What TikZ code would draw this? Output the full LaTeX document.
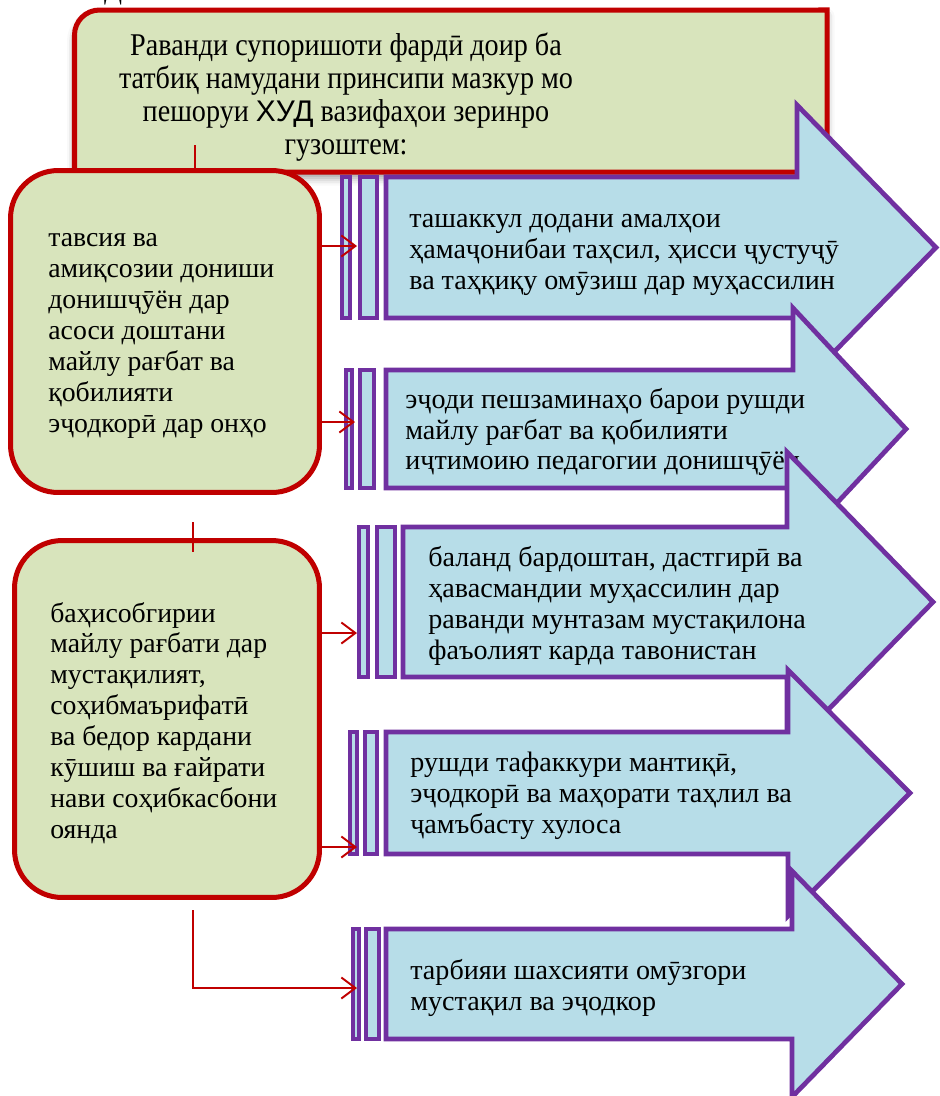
\documentclass[tikz,border=0pt]{standalone}
\usepackage{fontspec}
\setmainfont{Liberation Serif}
\setsansfont{Liberation Sans}
\newfontfamily\titlefont[FakeStretch=0.89]{Liberation Serif}
\usetikzlibrary{arrows.meta,shadows.blur}

\definecolor{boxgreen}{HTML}{D8E4BC}
\definecolor{boxred}{HTML}{C00000}
\definecolor{arrblue}{HTML}{B7DDE8}
\definecolor{arrpurple}{HTML}{7030A0}

\tikzset{
  leftbox/.style={draw=boxred, line width=2.85pt, fill=boxgreen, rounded corners=0.95cm, inner sep=0pt},
  boxtext/.style={anchor=west, align=left, inner sep=0pt, font=\fontsize{15.8}{17.6}\selectfont},
  arrbody/.style={draw=arrpurple, line width=2.7pt, fill=arrblue, line join=miter},
  arrtext/.style={anchor=west, align=left, inner sep=0pt, font=\fontsize{16}{17.6}\selectfont},
  conn/.style={draw=boxred, line width=1.1pt},
  connarr/.style={conn, -{Straight Barb[length=8pt,width=12pt]}},
}

\begin{document}
\begin{tikzpicture}[x=0.02cm,y=-0.02cm]
\useasboundingbox (0,0) rectangle (940,1096);
\node[inner sep=0pt, anchor=base, font=\fontsize{15}{18}\selectfont] (cut) at (113,-1) {Д};
% title
\draw[draw=boxred, line width=2.85pt, fill=boxgreen,
  blur shadow={shadow xshift=0pt, shadow yshift=-0.12cm, shadow blur radius=0.15cm}]
  (74.5,172) -- (74.5,35) arc[start angle=180, end angle=90, radius=0.5cm] -- (827,10) -- (827,172) -- cycle;
\node[align=center, inner sep=0pt, font=\titlefont\fontsize{18}{18.8}\selectfont] (title) at (346,97)
  {Раванди супоришоти фардӣ доир ба\\ татбиқ намудани принсипи мазкур мо\\ пешоруи {\sffamily\fontsize{17}{18.8}\selectfont ХУД} вазифаҳои зеринро\\ гузоштем:};
\coordinate (t1) at (195,145);
\coordinate (t2) at (195,172);
\draw[conn] (t1) -- (t2);
% left boxes
\node[leftbox, minimum width=6.18cm, minimum height=6.44cm] (left1) at (165,331.5) {};
\node[boxtext] (l1) at (48,336)
  {тавсия ва\\ амиқсозии дониши\\ донишҷӯён дар\\ асоси доштани\\ майлу рағбат ва\\ қобилияти\\ эҷодкорӣ дар онҳо};
\node[leftbox, minimum width=6.1cm, minimum height=7.14cm] (left2) at (167,719) {};
\node[boxtext] (l2) at (50,723)
  {баҳисобгирии\\ майлу рағбати дар\\ мустақилият,\\ соҳибмаърифатӣ\\ ва бедор кардани\\ кӯшиш ва ғайрати\\ нави соҳибкасбони\\ оянда};
% arrows
\draw[arrbody] (386,177) -- (797,177) -- (797,105) -- (936,247.5) -- (797,390) -- (797,318) -- (386,318) -- cycle;
\draw[arrbody] (342,177) rectangle (350,318);
\draw[arrbody] (360,177) rectangle (377,318);
\node[arrtext] (a1) at (409,255)
  {ташаккул додани амалҳои\\ ҳамаҷонибаи таҳсил, ҳисси ҷустуҷӯ\\ ва таҳқиқу омӯзиш дар муҳассилин};

\draw[arrbody] (386,370) -- (793,370) -- (793,308) -- (906,429) -- (793,550) -- (793,488) -- (386,488) -- cycle;
\draw[arrbody] (346,370) rectangle (352,488);
\draw[arrbody] (360,370) rectangle (374,488);
\node[arrtext] (a2) at (405,432)
  {эҷоди пешзаминаҳо барои рушди\\ майлу рағбат ва қобилияти\\ иҷтимоию педагогии донишҷӯён};

\draw[arrbody] (403,527) -- (787,527) -- (787,452) -- (933,602) -- (787,752) -- (787,677) -- (403,677) -- cycle;
\draw[arrbody] (359,527) rectangle (368,677);
\draw[arrbody] (377,527) rectangle (395,677);
\node[arrtext] (a3) at (428,606)
  {баланд бардоштан, дастгирӣ ва\\ ҳавасмандии муҳассилин дар\\ раванди мунтазам мустақилона\\ фаъолият карда тавонистан};

\draw[arrbody] (386,732) -- (788,732) -- (788,670) -- (910,793) -- (788,916) -- (788,854) -- (386,854) -- cycle;
\draw[arrbody] (350,732) rectangle (357,854);
\draw[arrbody] (365,732) rectangle (377,854);
\node[arrtext] (a4) at (410,796)
  {рушди тафаккури мантиқӣ,\\ эҷодкорӣ ва маҳорати таҳлил ва\\ ҷамъбасту хулоса};

\draw[arrbody] (386,929) -- (792,929) -- (792,871) -- (902,984) -- (792,1097) -- (792,1039) -- (386,1039) -- cycle;
\draw[arrbody] (353,929) rectangle (359,1039);
\draw[arrbody] (366,929) rectangle (379,1039);
\node[arrtext] (a5) at (410,988)
  {тарбияи шахсияти омӯзгори\\ мустақил ва эҷодкор};

% connectors
\coordinate (in1) at (357,246);
\coordinate (in2) at (355,422);
\coordinate (in3) at (357,633);
\coordinate (in4) at (357,847);
\coordinate (in5) at (357,988);
\coordinate (drop) at (193,910);
\coordinate (m1) at (193,522);
\coordinate (m2) at (193,552);
\draw[connarr] (left1.east |- in1) -- (in1);
\draw[connarr] (left1.east |- in2) -- (in2);
\draw[connarr] (left2.east |- in3) -- (in3);
\draw[connarr] (left2.east |- in4) -- (in4);
\draw[connarr] (drop) |- (in5);
\draw[conn] (m1) -- (m2);
\end{tikzpicture}
\end{document}
